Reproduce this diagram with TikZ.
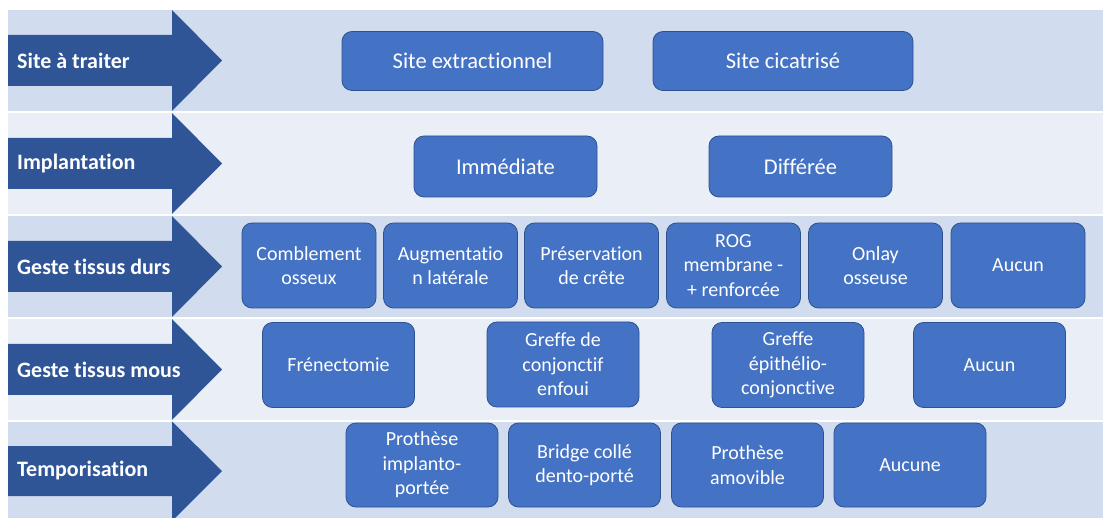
\documentclass[tikz,border=0pt]{standalone}
\usepackage{fontspec}
\setmainfont{Carlito}[Ligatures=CommonOff]
\usepackage{xcolor}
\usepackage{tikz}
\usetikzlibrary{positioning}
\definecolor{bandDark}{HTML}{D1DCEE}
\definecolor{bandLight}{HTML}{E9EEF7}
\definecolor{stageBlue}{HTML}{2F5597}
\definecolor{boxFill}{HTML}{4472C4}
\definecolor{boxLine}{HTML}{2F528F}
\tikzstyle{bandA}      = [fill=bandDark, draw=none]
\tikzstyle{bandB}      = [fill=bandLight, draw=none]
\tikzstyle{stagearrow} = [fill=stageBlue, draw=none]
\tikzstyle{stage}      = [anchor=west, inner sep=0pt, text=white, font=\fontsize{22}{26}\selectfont\bfseries]
\tikzstyle{choice}     = [rectangle, rounded corners=10pt, draw=boxLine, line width=0.8pt, fill=boxFill, text=white, align=center, inner sep=0pt, font=\fontsize{20}{24.5}\selectfont]
\tikzstyle{bigchoice}  = [choice, font=\fontsize{22.5}{27}\selectfont]

\begin{document}
\begin{tikzpicture}[x=1pt, y=-1pt]
        \clip (0,0) rectangle (1103,518);
        \fill[white] (0,0) rectangle (1103,518);

        % bandes
        \fill[bandA] (8,10)  rectangle (1103,111.5);
        \fill[bandB] (8,113) rectangle (1103,214.5);
        \fill[bandA] (8,216) rectangle (1103,317.5);
        \fill[bandB] (8,319) rectangle (1103,420);
        \fill[bandA] (8,421.5) rectangle (1103,523);

        % fleches
        \fill[stagearrow] (8,35)  -- (172,35)  -- (172,10)  -- (222,60.5)  -- (172,111)  -- (172,86)  -- (8,86)  -- cycle;
        \fill[stagearrow] (8,138) -- (172,138) -- (172,113) -- (222,163.5) -- (172,214)  -- (172,189) -- (8,189) -- cycle;
        \fill[stagearrow] (8,241) -- (172,241) -- (172,216) -- (222,266.5) -- (172,317)  -- (172,292) -- (8,292) -- cycle;
        \fill[stagearrow] (8,344) -- (172,344) -- (172,319) -- (222,369.5) -- (172,420)  -- (172,395) -- (8,395) -- cycle;
        \fill[stagearrow] (8,446) -- (172,446) -- (172,421.5) -- (222,471) -- (172,521) -- (172,496) -- (8,496) -- cycle;

        \node[stage] (site)   at (17,60.5)  {Site à traiter};
        \node[stage] (impl)   at (17,163.5) {Implantation};
        \node[stage] (durs)   at (17,266.5) {Geste tissus durs};
        \node[stage] (mous)   at (17,369.5) {Geste tissus mous};
        \node[stage] (tempo)  at (17,471)   {Temporisation};

        % site a traiter
        \node[bigchoice, minimum width=261, minimum height=59] (siteExt) at (472.5,61) {Site extractionnel};
        \node[bigchoice, minimum width=260, minimum height=59] (siteCic) at (783,61)   {Site cicatrisé};

        % implantation
        \node[bigchoice, minimum width=183, minimum height=61] (immediate) at (505.5,166.5) {Immédiate};
        \node[bigchoice, minimum width=183, minimum height=61] (differee)  at (800.5,166.5) {Différée};

        % tissus durs
        \node[choice, minimum width=134, minimum height=85] (comblement)   at (309,265.5)    {Comblement\\osseux};
        \node[choice, minimum width=134, minimum height=85] (augmentation) at (450.5,265.5)  {Augmentatio\\n latérale};
        \node[choice, minimum width=134, minimum height=85] (preservation) at (591.5,265.5)  {Préservation\\de crête};
        \node[choice, minimum width=134, minimum height=85] (rog)          at (733.5,265.5)  {ROG\\membrane -\\+ renforcée};
        \node[choice, minimum width=134, minimum height=85] (onlay)        at (875.5,265.5)  {Onlay\\osseuse};
        \node[choice, minimum width=134, minimum height=85] (aucunDur)     at (1018,265.5)   {Aucun};

        % tissus mous
        \node[choice, minimum width=152, minimum height=85] (frenectomie) at (338.5,365) {Frénectomie};
        \node[choice, minimum width=152, minimum height=85] (greffeConj)  at (563,364.5)  {Greffe de\\conjonctif\\enfoui};
        \node[choice, minimum width=152, minimum height=85] (greffeEpi)   at (788,365)    {Greffe\\épithélio-\\conjonctive};
        \node[choice, minimum width=152, minimum height=85] (aucunMou)    at (989.5,365)  {Aucun};

        % temporisation
        \node[choice, minimum width=152, minimum height=84] (protImpl)  at (422,465)   {Prothèse\\implanto-\\portée};
        \node[choice, minimum width=152, minimum height=84] (bridge)    at (584.5,465) {Bridge collé\\dento-porté};
        \node[choice, minimum width=152, minimum height=84] (protAmov)  at (747.5,465) {Prothèse\\amovible};
        \node[choice, minimum width=152, minimum height=84] (aucune)    at (910,465)   {Aucune};
    \end{tikzpicture}
\end{document}
